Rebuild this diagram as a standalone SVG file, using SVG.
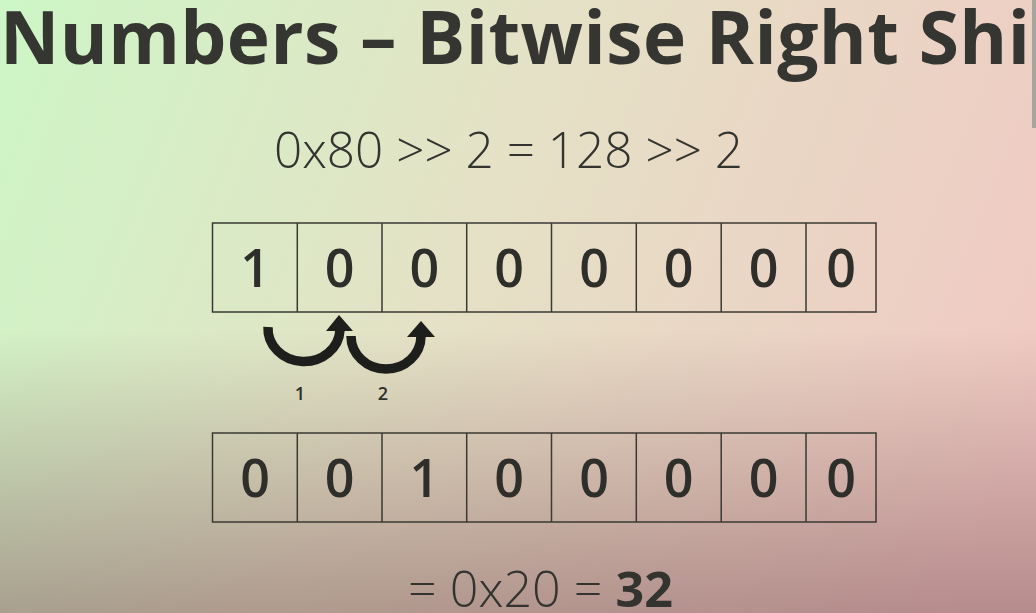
<svg xmlns="http://www.w3.org/2000/svg" width="1036" height="613" viewBox="0 0 1036 613">
<defs>
<linearGradient id="bg" gradientUnits="userSpaceOnUse" x1="0" y1="0" x2="1036" y2="420">
<stop offset="0" stop-color="#cdf6c6"/>
<stop offset="0.45" stop-color="#e4e2c6"/>
<stop offset="1" stop-color="#f0c9c3"/>
</linearGradient>
<linearGradient id="shade" gradientUnits="userSpaceOnUse" x1="0" y1="330" x2="0" y2="613">
<stop offset="0" stop-color="#6a3a44" stop-opacity="0"/>
<stop offset="1" stop-color="#6a3a44" stop-opacity="0.43"/>
</linearGradient>
<style>
.title{font-family:"Open Sans","Noto Sans",sans-serif;font-weight:700;font-size:73px;fill:#353532}
.light{font-family:"Open Sans","Noto Sans",sans-serif;font-weight:300;font-size:49px;fill:#333330}
.bold{font-weight:700}
.digit{font-family:"Open Sans","Noto Sans",sans-serif;font-weight:600;font-size:52px;fill:#2e2e2b;text-anchor:middle}
.small{font-family:"Open Sans","Noto Sans",sans-serif;font-weight:600;font-size:18px;fill:#2e2e2b;text-anchor:middle}
.cell{fill:none;stroke:#3a3a35;stroke-width:1.5}
.arc{fill:none;stroke:#1e1e1c;stroke-width:9.5}
.head{fill:#1e1e1c}
</style>
</defs>
<rect width="1036" height="613" fill="url(#bg)"/>
<rect width="1036" height="613" fill="url(#shade)"/>
<rect x="1032" y="0" width="4" height="128" fill="#a6a59e"/>

<g id="title"><text class="title" x="0" y="64" textLength="1030" lengthAdjust="spacing">Numbers – Bitwise Right Shi</text></g>
<g id="expression"><text class="light" x="274" y="168" textLength="469" lengthAdjust="spacingAndGlyphs">0x80 &gt;&gt; 2 = 128 &gt;&gt; 2</text></g>

<g id="row1">
<rect class="cell" x="212.5" y="223" width="663.5" height="89"/>
<path class="cell" d="M297.3,223V312M382,223V312M466.7,223V312M551.5,223V312M636.3,223V312M721.2,223V312M806,223V312"/>
<text class="digit" x="255" y="287">1</text>
<text class="digit" x="339.7" y="287">0</text>
<text class="digit" x="424.3" y="287">0</text>
<text class="digit" x="509" y="287">0</text>
<text class="digit" x="594" y="287">0</text>
<text class="digit" x="678.7" y="287">0</text>
<text class="digit" x="763.6" y="287">0</text>
<text class="digit" x="841" y="287">0</text>
</g>

<g id="connectors">
<path class="arc" d="M268,327 A36,33 0 0 0 340,330"/>
<polygon class="head" points="339,315 353,331 326,331"/>
<path class="arc" d="M351,336 A35,33 0 0 0 421,336"/>
<polygon class="head" points="421,321 435,337 407,337"/>
</g>
<g id="label1"><text class="small" x="300" y="400">1</text></g>
<g id="label2"><text class="small" x="383" y="400">2</text></g>

<g id="row2">
<rect class="cell" x="212.5" y="433" width="663.5" height="89"/>
<path class="cell" d="M297.3,433V522M382,433V522M466.7,433V522M551.5,433V522M636.3,433V522M721.2,433V522M806,433V522"/>
<text class="digit" x="255" y="497">0</text>
<text class="digit" x="339.7" y="497">0</text>
<text class="digit" x="424.3" y="497">1</text>
<text class="digit" x="509" y="497">0</text>
<text class="digit" x="594" y="497">0</text>
<text class="digit" x="678.7" y="497">0</text>
<text class="digit" x="763.6" y="497">0</text>
<text class="digit" x="841" y="497">0</text>
</g>

<g id="result"><text class="light" x="408" y="607" textLength="265" lengthAdjust="spacingAndGlyphs">= 0x20 = <tspan class="bold">32</tspan></text></g>
</svg>
